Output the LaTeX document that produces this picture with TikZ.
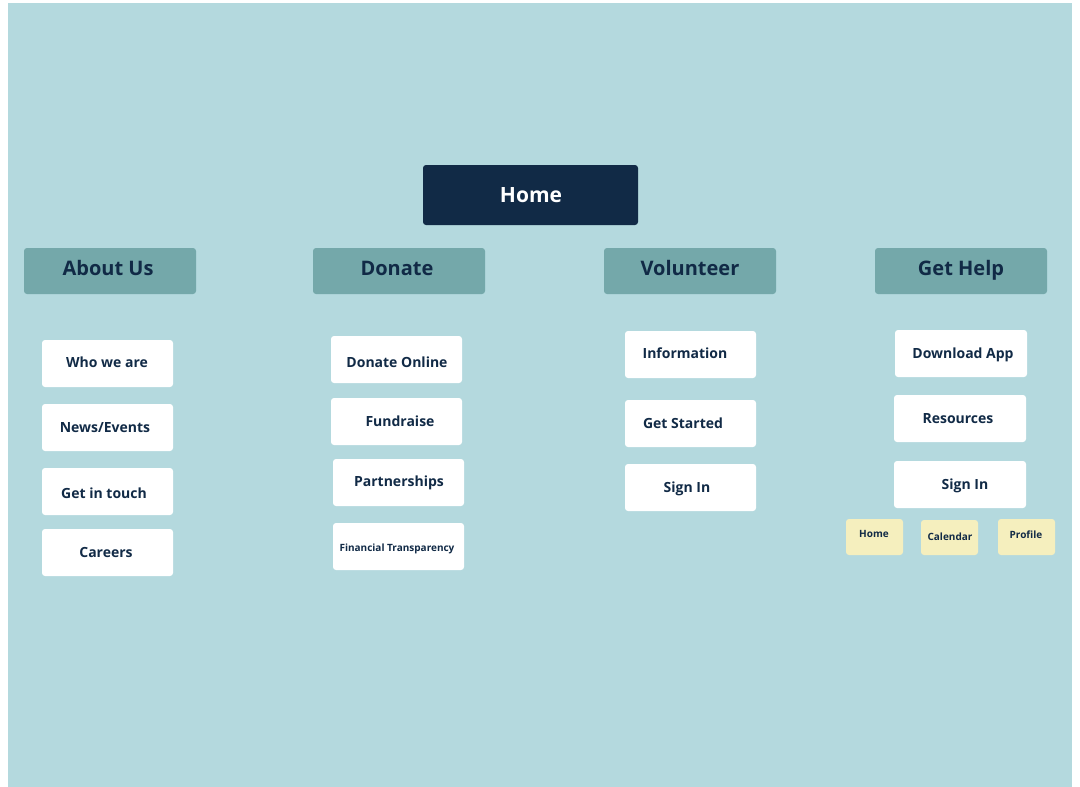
\documentclass[tikz,border=0pt]{standalone}
\usepackage{fontspec}
\setmainfont{Open Sans}
\definecolor{bgblue}{HTML}{B4D9DE}
\definecolor{navy}{HTML}{112A46}
\definecolor{teal}{HTML}{74A8AA}
\definecolor{pale}{HTML}{F5EFBE}
\begin{document}
\begin{tikzpicture}[x=1pt,y=-1pt,
  homebox/.style={fill=navy,rounded corners=3pt},
  headbox/.style={fill=teal,rounded corners=3pt},
  wbox/.style={fill=white,rounded corners=3pt},
  ybox/.style={fill=pale,rounded corners=3pt},
  lbl/.style={inner sep=0pt,text depth=0pt},
  hometxt/.style={lbl,text=white,font=\fontsize{21}{24}\selectfont\bfseries,text height=15.1pt},
  headtxt/.style={lbl,text=navy,font=\fontsize{20}{24}\selectfont\bfseries,text height=14.4pt},
  wtxt/.style={lbl,text=navy,font=\fontsize{14}{17}\selectfont\bfseries,text height=10.1pt},
  stxt/.style={lbl,text=navy,font=\fontsize{10}{12}\selectfont\bfseries,text height=7.2pt},
  ytxt/.style={lbl,text=navy,font=\fontsize{10}{12}\selectfont\bfseries,text height=7.2pt}]
\useasboundingbox (0,0) rectangle (1080,787);
\fill[white] (0,0) rectangle (1080,787);
\fill[bgblue] (8,3) rectangle (1072,787);
% Home
\fill[homebox] (423,165) rectangle (638,225);
\node[hometxt] (home) at (531,195) {Home};
% headers
\fill[headbox] (24,248) rectangle (196,294);
\node[headtxt] (about) at (108,268) {About Us};
\fill[headbox] (313,248) rectangle (485,294);
\node[headtxt] (donate) at (397,268) {Donate};
\fill[headbox] (604,248) rectangle (776,294);
\node[headtxt] (volunteer) at (690,268) {Volunteer};
\fill[headbox] (875,248) rectangle (1047,294);
\node[headtxt] (gethelp) at (961,268) {Get Help};
% About Us children
\fill[wbox] (42,340) rectangle (173,387);
\node[wtxt] (who) at (107,362) {Who we are};
\fill[wbox] (42,404) rectangle (173,451);
\node[wtxt] (news) at (105,427) {News/Events};
\fill[wbox] (42,468) rectangle (173,515);
\node[wtxt] (touch) at (104,493) {Get in touch};
\fill[wbox] (42,529) rectangle (173,576);
\node[wtxt] (careers) at (106,552) {Careers};
% Donate children
\fill[wbox] (331,336) rectangle (462,383);
\node[wtxt] (donline) at (397,362) {Donate Online};
\fill[wbox] (331,398) rectangle (462,445);
\node[wtxt] (fund) at (400,421) {Fundraise};
\fill[wbox] (333,459) rectangle (464,506);
\node[wtxt] (partner) at (399,481) {Partnerships};
\fill[wbox] (333,523) rectangle (464,570);
\node[stxt] (fin) at (397,548) {Financial Transparency};
% Volunteer children
\fill[wbox] (625,331) rectangle (756,378);
\node[wtxt] (info) at (685,353) {Information};
\fill[wbox] (625,400) rectangle (756,447);
\node[wtxt] (started) at (683,423) {Get Started};
\fill[wbox] (625,464) rectangle (756,511);
\node[wtxt] (vsign) at (687,487) {Sign In};
% Get Help children
\fill[wbox] (895,330) rectangle (1027,377);
\node[wtxt] (app) at (963,353) {Download App};
\fill[wbox] (894,395) rectangle (1026,442);
\node[wtxt] (res) at (958,418) {Resources};
\fill[wbox] (894,461) rectangle (1026,508);
\node[wtxt] (hsign) at (965,484) {Sign In};
% app screens
\fill[ybox] (846,519) rectangle (903,555);
\node[ytxt] (yhome) at (874,534) {Home};
\fill[ybox] (921,520) rectangle (978,555);
\node[ytxt] (ycal) at (950,537) {Calendar};
\fill[ybox] (998,519) rectangle (1055,555);
\node[ytxt] (yprof) at (1026,535) {Profile};
\end{tikzpicture}
\end{document}
